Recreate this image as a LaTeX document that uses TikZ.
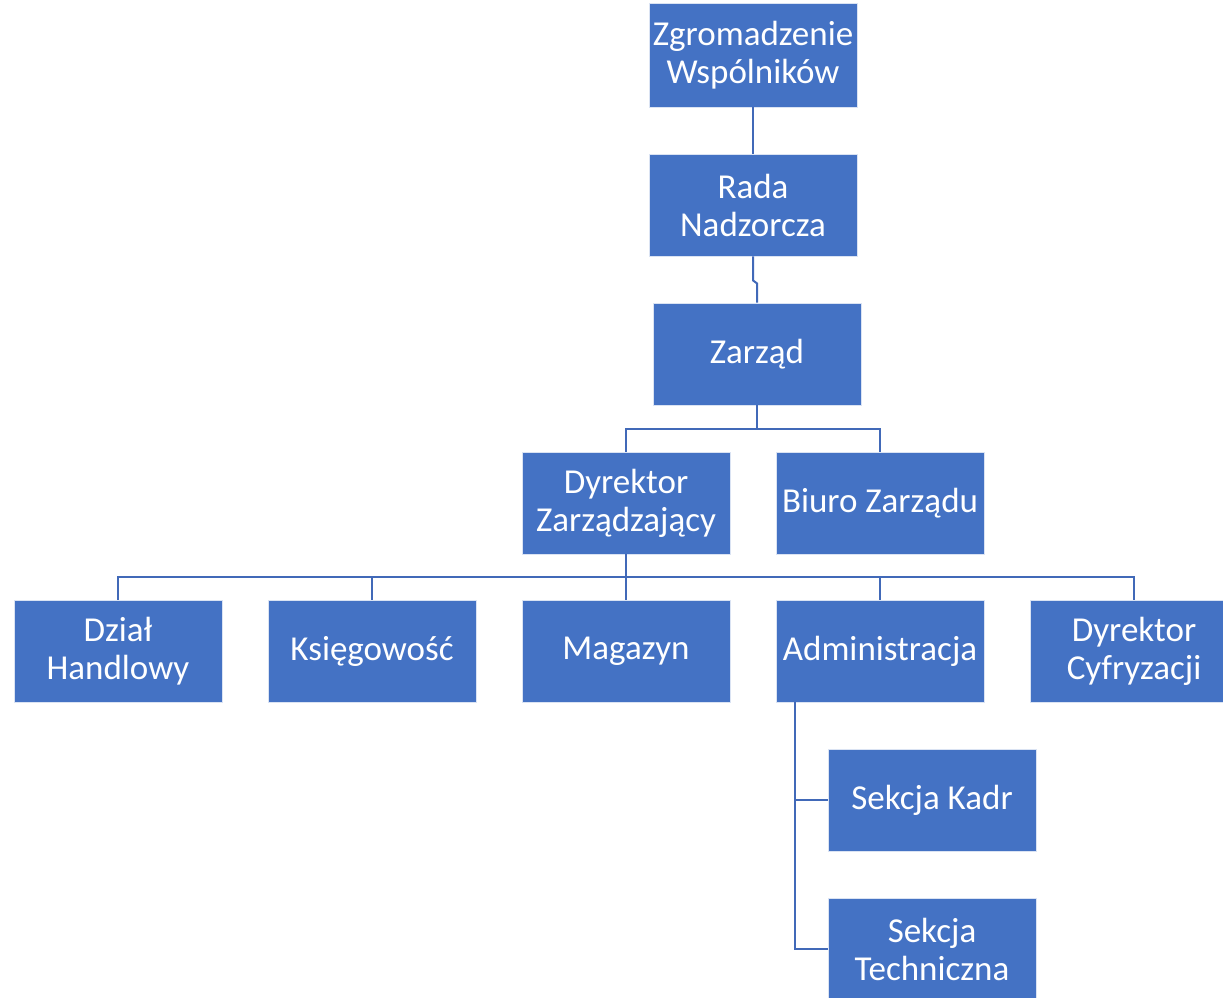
\documentclass[tikz,border=0pt]{standalone}
\usepackage{fontspec}
\setmainfont{Carlito}
\definecolor{boxblue}{HTML}{4472C4}
\definecolor{lineblue}{HTML}{4169B8}
\begin{document}
\begin{tikzpicture}[x=0.75pt,y=-0.75pt,
  orgbox/.style={rectangle, fill=boxblue, draw=white!80!boxblue, line width=0.6pt,
    minimum width=156pt, minimum height=76.5pt, inner sep=0pt, align=center,
    text=white, font=\fontsize{26.25pt}{28.5pt}\selectfont},
  conn/.style={draw=lineblue, line width=1.5pt}]
\clip (0,0) rectangle (1223,997);
\useasboundingbox (0,0) rectangle (1223,997);
\node[orgbox, minimum height=78pt] (zw) at (753,55) {Zgromadzenie\\Wspólników};
\node[orgbox] (rn) at (753,205) {Rada\\Nadzorcza};
\node[orgbox] (z) at (757,354) {Zarząd};
\node[orgbox] (dz) at (626,503) {Dyrektor\\Zarządzający};
\node[orgbox] (bz) at (880,503) {Biuro Zarządu};
\node[orgbox] (dh) at (118,651) {Dział\\Handlowy};
\node[orgbox] (ks) at (372,651) {Księgowość};
\node[orgbox] (mg) at (626,651) {Magazyn};
\node[orgbox] (ad) at (880,651) {Administracja};
\node[orgbox] (dc) at (1134,651) {Dyrektor\\Cyfryzacji};
\node[orgbox] (sk) at (932,800) {Sekcja Kadr};
\node[orgbox] (st) at (932,949) {Sekcja\\Techniczna};
\coordinate (zj) at (757,429);
\coordinate (dj) at (626,577);
\coordinate (aj) at (795,702);
\draw[conn] (zw.south) -- (rn.north);
\draw[conn] (rn.south) -- ++(0,24) -- ++(4,3) -- (z.north);
\draw[conn] (z.south) -- (zj);
\draw[conn] (zj) -| (dz.north);
\draw[conn] (zj) -| (bz.north);
\draw[conn] (dz.south) -- (dj);
\draw[conn] (dj) -| (dh.north);
\draw[conn] (dj) -| (ks.north);
\draw[conn] (dj) -- (mg.north);
\draw[conn] (dj) -| (ad.north);
\draw[conn] (dj) -| (dc.north);
\draw[conn] (aj) |- (sk.west);
\draw[conn] (aj) |- (st.west);
\end{tikzpicture}
\end{document}
